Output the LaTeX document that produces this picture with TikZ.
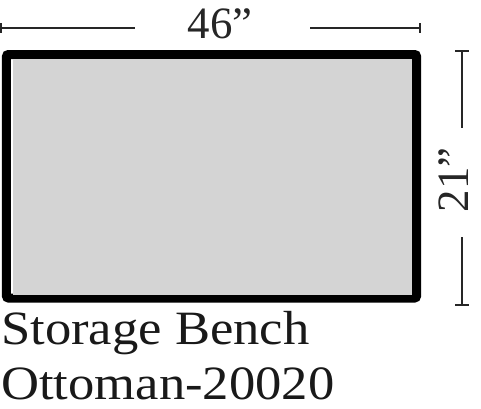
\documentclass[tikz,border=0pt]{standalone}
\usepackage{fontspec}
\usetikzlibrary{calc}
\newfontfamily\labelfont{Liberation Serif}
\begin{document}
\begin{tikzpicture}[x=1bp,y=-1bp,
  dimline/.style={line width=1.6bp,black!85},
  dimtext/.style={font=\labelfont\fontsize{45}{45}\selectfont,inner sep=0pt,anchor=base,text=black!85},
  caption/.style={font=\labelfont\fontsize{48}{48}\selectfont,inner sep=0pt,anchor=base west,text=black!90,xscale=1.1}]
\useasboundingbox (0,0) rectangle (481,408);
% bench
\node[draw=black,line width=9bp,rounded corners=2bp,fill=white,minimum width=410bp,minimum height=243.5bp,inner sep=0pt] (bench) at (211.5,176.25) {};
\fill[black!17] (13,59) rectangle (412,295);
% top dimension
\coordinate (tl) at (1,28);
\coordinate (tr) at (420,28);
\node[dimtext] (w) at (220,38) {46”};
\draw[dimline] (tl) -- (135,28);
\draw[dimline] (310,28) -- (tr);
\draw[dimline] ($(tl)+(0,-5)$) -- ($(tl)+(0,5)$);
\draw[dimline] ($(tr)+(0,-5)$) -- ($(tr)+(0,5)$);
% right dimension
\coordinate (rt) at (462,51);
\coordinate (rb) at (462,305);
\node[dimtext,rotate=90] (h) at (468,180) {21”};
\draw[dimline] (rt) -- (462,128);
\draw[dimline] (462,237) -- (rb);
\draw[dimline] ($(rt)+(-7,0)$) -- ($(rt)+(7,0)$);
\draw[dimline] ($(rb)+(-7,0)$) -- ($(rb)+(7,0)$);
% captions
\node[caption] (c1) at (1,344) {Storage Bench};
\node[caption] (c2) at (1,399) {Ottoman-20020};
\end{tikzpicture}
\end{document}
